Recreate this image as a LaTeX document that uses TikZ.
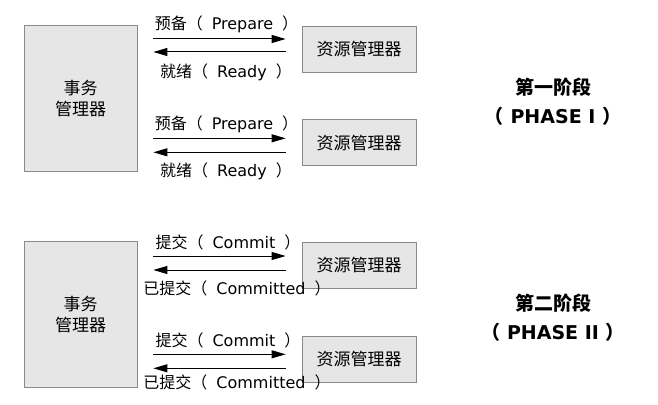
\documentclass[tikz,border=0pt]{standalone}
\usepackage{fontspec}
\setmainfont{DejaVu Sans}
\newfontfamily\cjk{Noto Sans CJK SC}
\usepackage{tikz}
\usetikzlibrary{positioning,arrows.meta}
\definecolor{boxfill}{RGB}{230,230,230}
\definecolor{boxline}{RGB}{138,138,138}
\newcommand{\pgap}{\hspace{9pt}}
\tikzset{
tm_box/.style={rectangle, draw=boxline, fill=boxfill, line width=0.8pt, minimum width=113pt, minimum height=146pt, align=center, font=\cjk\fontsize{17}{21}\selectfont},
rm_box/.style={rectangle, draw=boxline, fill=boxfill, line width=0.8pt, minimum width=114pt, minimum height=46pt, font=\cjk\fontsize{17}{20}\selectfont},
msg_arrow/.style={-{Triangle[length=14pt,width=8pt]}, line width=1pt, shorten <=16pt, shorten >=16pt},
msg_label/.style={font=\fontsize{16}{18}\selectfont, inner sep=0pt},
phase_text/.style={align=center, font=\bfseries\fontsize{19}{29}\selectfont}
}

\begin{document}
\begin{tikzpicture}[x=1pt,y=-1pt]
    \useasboundingbox (0,0) rectangle (658,404);
    % phase one
    \node[tm_box] (tm1) at (80.5,98.5) {事务\\管理器};
    \node[rm_box] (rm1) at (359,49) {资源管理器};
    \node[rm_box] (rm2) [below=47pt of rm1] {资源管理器};
    \draw[msg_arrow] ([yshift=10pt]tm1.east |- rm1) -- node[msg_label, xshift=7pt, yshift=15pt] {{\cjk 预备（}\pgap Prepare\pgap{\cjk ）}} ([yshift=10pt]rm1.west);
    \draw[msg_arrow] ([yshift=-3pt]rm1.west) -- node[msg_label, xshift=6.5pt, yshift=-20pt] {{\cjk 就绪（}\pgap Ready\pgap{\cjk ）}} ([yshift=-3pt]tm1.east |- rm1);
    \draw[msg_arrow] ([yshift=4.5pt]tm1.east |- rm2) -- node[msg_label, xshift=7pt, yshift=14pt] {{\cjk 预备（}\pgap Prepare\pgap{\cjk ）}} ([yshift=4.5pt]rm2.west);
    \draw[msg_arrow] ([yshift=-9.5pt]rm2.west) -- node[msg_label, xshift=6.5pt, yshift=-19pt] {{\cjk 就绪（}\pgap Ready\pgap{\cjk ）}} ([yshift=-9.5pt]tm1.east |- rm2);
    \node[phase_text] (ph1) at (553,102) {{\cjk 第一阶段}\\{\cjk （} PHASE I {\cjk ）}};
    % phase two
    \node[tm_box] (tm2) at (80.5,314.5) {事务\\管理器};
    \node[rm_box] (rm3) at (359,265.5) {资源管理器};
    \node[rm_box] (rm4) [below=47pt of rm3] {资源管理器};
    \draw[msg_arrow] ([yshift=9.5pt]tm2.east |- rm3) -- node[msg_label, xshift=8.5pt, yshift=14pt] {{\cjk 提交（}\pgap Commit\pgap{\cjk ）}} ([yshift=9.5pt]rm3.west);
    \draw[msg_arrow] ([yshift=-4.5pt]rm3.west) -- node[msg_label, xshift=17.5pt, yshift=-18pt] {{\cjk 已提交（}\pgap Committed\pgap{\cjk ）}} ([yshift=-4.5pt]tm2.east |- rm3);
    \draw[msg_arrow] ([yshift=5pt]tm2.east |- rm4) -- node[msg_label, xshift=8.5pt, yshift=14pt] {{\cjk 提交（}\pgap Commit\pgap{\cjk ）}} ([yshift=5pt]rm4.west);
    \draw[msg_arrow] ([yshift=-9pt]rm4.west) -- node[msg_label, xshift=17.5pt, yshift=-14pt] {{\cjk 已提交（}\pgap Committed\pgap{\cjk ）}} ([yshift=-9pt]tm2.east |- rm4);
    \node[phase_text] (ph2) at (553,318) {{\cjk 第二阶段}\\{\cjk （} PHASE II {\cjk ）}};
\end{tikzpicture}
\end{document}
